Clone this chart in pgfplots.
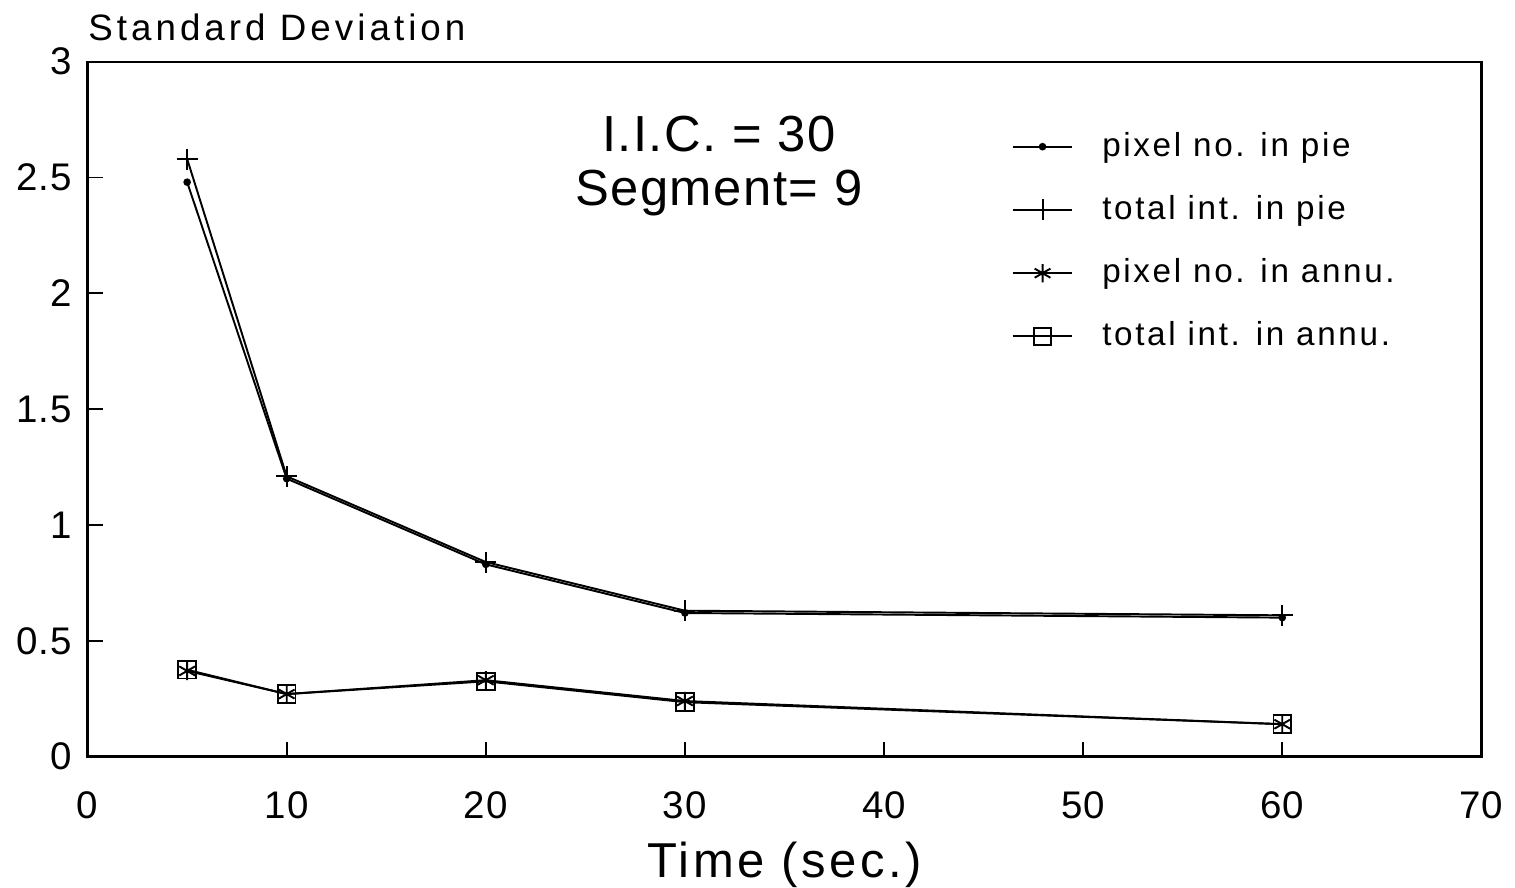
\documentclass[border=0pt]{standalone}
\usepackage{fontspec}
\setmainfont{Liberation Sans}
\newfontfamily\tickfont[LetterSpace=3]{Liberation Sans}
\newfontfamily\labfont[LetterSpace=11]{Liberation Sans}
\newfontfamily\xlabfont[LetterSpace=7]{Liberation Sans}
\newfontfamily\legfont[LetterSpace=8]{Liberation Sans}
\newfontfamily\notefont[LetterSpace=3]{Liberation Sans}
\usepackage{pgfplots}
\pgfplotsset{compat=1.18}

\begin{document}
\begin{tikzpicture}
\begin{axis}[
  width=140mm, height=69.8mm, scale only axis,
  xmin=0, xmax=70, ymin=0, ymax=3,
  xtick={0,10,...,70}, ytick={0,0.5,...,3},
  tick align=inside, xtick pos=bottom, ytick pos=left,
  major tick length=1.5mm,
  axis line style={line width=0.7pt},
  tick style={line width=0.5pt, black},
  /pgf/number format/assume math mode=true,
  tick label style={font=\tickfont\fontsize{11}{13}\selectfont},
  xticklabel style={yshift=-2.3mm},
  yticklabel style={xshift=-0.3mm},
  xlabel={Time (sec.)},
  xlabel style={at={(rel axis cs:0.5,0)}, anchor=base, yshift=-12.1mm,
                inner sep=0pt, font=\xlabfont\fontsize{14}{16}\selectfont},
  ylabel={Standard Deviation},
  ylabel style={at={(rel axis cs:0,1)}, anchor=base west, rotate=-90,
                yshift=2.1mm, inner sep=0pt,
                font=\labfont\fontsize{10.5}{12}\selectfont},
  legend cell align=left,
  legend style={at={(rel axis cs:0.655,0.92)}, anchor=north west,
                draw=none, fill=none, row sep=2.0mm, column sep=2.2mm,
                font=\legfont\fontsize{9.5}{11}\selectfont},
  clip=false,
  every axis plot/.append style={black, line width=0.55pt},
]
% pixel no. in pie
\addplot[mark=*, mark size=0.8pt] coordinates
  {(5,2.48)(10,1.20)(20,0.83)(30,0.62)(60,0.60)};
\addlegendentry{pixel no. in pie}
% total int. in pie
\addplot[mark=+, mark size=3pt] coordinates
  {(5,2.58)(10,1.21)(20,0.84)(30,0.63)(60,0.61)};
\addlegendentry{total int. in pie}
% pixel no. in annu.
\addplot[mark=asterisk, mark size=2.6pt] coordinates
  {(5,0.37)(10,0.27)(20,0.33)(30,0.24)(60,0.14)};
\addlegendentry{pixel no. in annu.}
% total int. in annu.
\addplot[mark=square, mark size=2.5pt] coordinates
  {(5,0.375)(10,0.27)(20,0.325)(30,0.235)(60,0.14)};
\addlegendentry{total int. in annu.}

\node[align=center, font=\notefont\fontsize{14.5}{15.2}\selectfont]
  at (axis cs:31.7,2.55) {I.I.C. = 30\\Segment= 9};

% page extent of the original figure
\path (rel axis cs:0,0) ++(-8.8mm,-13mm) (rel axis cs:1,1) ++(2.7mm,6.2mm);
\end{axis}
\end{tikzpicture}
\end{document}
